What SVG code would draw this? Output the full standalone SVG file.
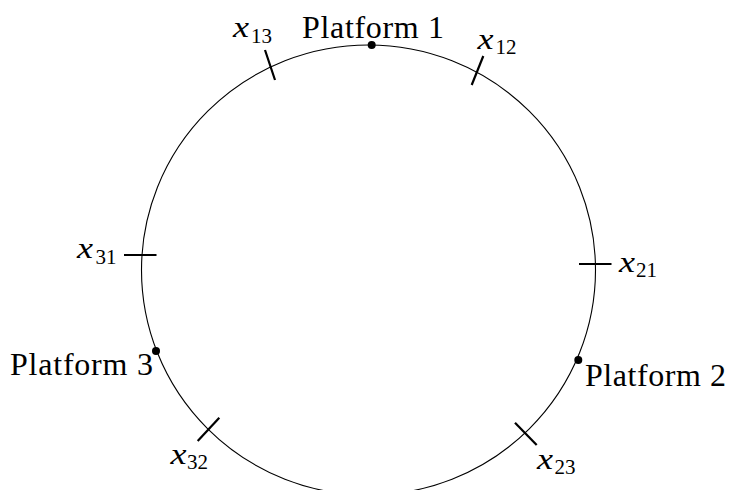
<svg xmlns="http://www.w3.org/2000/svg" width="731" height="490" viewBox="0 0 731 490">
  <style>
    .track { fill: none; stroke: #000; stroke-width: 1.1; }
    .tick { stroke: #000; stroke-width: 2.2; stroke-linecap: butt; }
    .dot { fill: #000; }
    .lbl { font-family: "Liberation Serif", "DejaVu Serif", serif; font-size: 32px; fill: #000; }
    .mi { font-family: "Liberation Serif", "DejaVu Serif", serif; font-style: italic; font-size: 30px; fill: #000; }
    .sub { font-family: "Liberation Serif", "DejaVu Serif", serif; font-style: normal; font-size: 21px; fill: #000; }
  </style>
  <rect width="731" height="490" fill="#fff"/>
  <g id="connectors">
    <ellipse class="track" cx="368.5" cy="270" rx="227" ry="225"/>
  </g>
  <g id="platform1">
    <circle class="dot" cx="371.7" cy="45" r="4"/>
    <text class="lbl" x="302" y="37.5" textLength="142" lengthAdjust="spacing">Platform 1</text>
  </g>
  <g id="platform2">
    <circle class="dot" cx="578.3" cy="360" r="4"/>
    <text class="lbl" x="585" y="386" textLength="141" lengthAdjust="spacing">Platform 2</text>
  </g>
  <g id="platform3">
    <circle class="dot" cx="156" cy="351" r="4"/>
    <text class="lbl" x="10" y="375" textLength="143" lengthAdjust="spacing">Platform 3</text>
  </g>
  <g id="x13">
    <line class="tick" x1="265" y1="50" x2="275" y2="80"/>
    <text class="mi" x="233" y="37" textLength="16" lengthAdjust="spacingAndGlyphs">x</text>
    <text class="sub" x="251" y="43">13</text>
  </g>
  <g id="x12">
    <line class="tick" x1="483.3" y1="56" x2="471.7" y2="85"/>
    <text class="mi" x="477.5" y="48.5" textLength="16" lengthAdjust="spacingAndGlyphs">x</text>
    <text class="sub" x="495.5" y="54">12</text>
  </g>
  <g id="x31">
    <line class="tick" x1="124" y1="255" x2="156.5" y2="255"/>
    <text class="mi" x="77" y="258" textLength="16" lengthAdjust="spacingAndGlyphs">x</text>
    <text class="sub" x="95.5" y="263.5">31</text>
  </g>
  <g id="x21">
    <line class="tick" x1="579" y1="264" x2="611.5" y2="264"/>
    <text class="mi" x="619" y="271.5" textLength="16" lengthAdjust="spacingAndGlyphs">x</text>
    <text class="sub" x="636" y="277">21</text>
  </g>
  <g id="x32">
    <line class="tick" x1="197.7" y1="441" x2="219.3" y2="417.7"/>
    <text class="mi" x="170.5" y="463.5" textLength="16" lengthAdjust="spacingAndGlyphs">x</text>
    <text class="sub" x="187" y="469">32</text>
  </g>
  <g id="x23">
    <line class="tick" x1="515" y1="422.7" x2="536.7" y2="445"/>
    <text class="mi" x="537" y="469" textLength="16" lengthAdjust="spacingAndGlyphs">x</text>
    <text class="sub" x="554.5" y="474">23</text>
  </g>
</svg>
